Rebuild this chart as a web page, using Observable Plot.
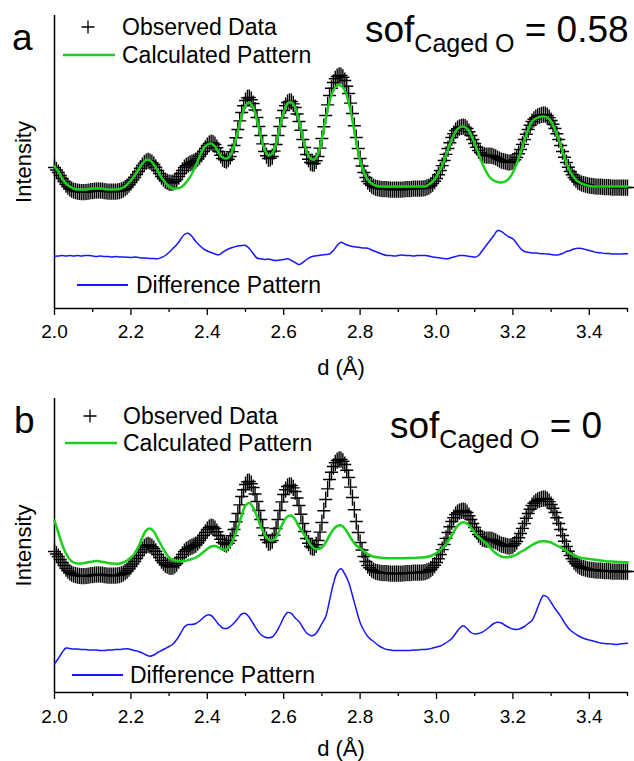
<!DOCTYPE html>
<html><head><meta charset="utf-8">
<script src="https://cdn.jsdelivr.net/npm/d3@7"></script>
<script src="https://cdn.jsdelivr.net/npm/@observablehq/plot@0.6"></script>
<style>
body{margin:0;background:#fff;}
#chart svg{display:block;}
</style></head><body><div id="chart"></div>
<script>
// d-spacing grid of the observed data (Å)
const dObs = [
2.000,2.005,2.010,2.015,2.020,2.025,2.030,2.035,2.040,2.045,2.050,2.055,2.060,2.065,2.070,2.075,2.080,2.085,2.090,2.095,
2.100,2.105,2.110,2.115,2.120,2.125,2.130,2.135,2.140,2.145,2.150,2.155,2.160,2.165,2.170,2.175,2.180,2.185,2.190,2.195,
2.200,2.205,2.210,2.215,2.220,2.225,2.230,2.235,2.240,2.245,2.250,2.255,2.260,2.265,2.270,2.275,2.280,2.285,2.290,2.295,
2.300,2.305,2.310,2.315,2.320,2.325,2.330,2.335,2.340,2.345,2.350,2.355,2.360,2.365,2.370,2.375,2.380,2.385,2.390,2.395,
2.400,2.405,2.410,2.415,2.420,2.425,2.430,2.435,2.440,2.445,2.450,2.455,2.460,2.465,2.470,2.475,2.480,2.485,2.490,2.495,
2.500,2.505,2.510,2.515,2.520,2.525,2.530,2.535,2.540,2.545,2.550,2.555,2.560,2.565,2.570,2.575,2.580,2.585,2.590,2.595,
2.600,2.605,2.610,2.615,2.620,2.625,2.630,2.635,2.640,2.645,2.650,2.655,2.660,2.665,2.670,2.675,2.680,2.685,2.690,2.695,
2.700,2.705,2.710,2.715,2.720,2.725,2.730,2.735,2.740,2.745,2.750,2.755,2.760,2.765,2.770,2.775,2.780,2.785,2.790,2.795,
2.800,2.805,2.810,2.815,2.820,2.825,2.830,2.835,2.840,2.845,2.850,2.855,2.860,2.865,2.870,2.875,2.880,2.885,2.890,2.895,
2.900,2.905,2.910,2.915,2.920,2.925,2.930,2.935,2.940,2.945,2.950,2.955,2.960,2.965,2.970,2.975,2.980,2.985,2.990,2.995,
3.000,3.005,3.010,3.015,3.020,3.025,3.030,3.035,3.040,3.045,3.050,3.055,3.060,3.065,3.070,3.075,3.080,3.085,3.090,3.095,
3.100,3.105,3.110,3.115,3.120,3.125,3.130,3.135,3.140,3.145,3.150,3.155,3.160,3.165,3.170,3.175,3.180,3.185,3.190,3.195,
3.200,3.205,3.210,3.215,3.220,3.225,3.230,3.235,3.240,3.245,3.250,3.255,3.260,3.265,3.270,3.275,3.280,3.285,3.290,3.295,
3.300,3.305,3.310,3.315,3.320,3.325,3.330,3.335,3.340,3.345,3.350,3.355,3.360,3.365,3.370,3.375,3.380,3.385,3.390,3.395,
3.400,3.405,3.410,3.415,3.420,3.425,3.430,3.435,3.440,3.445,3.450,3.455,3.460,3.465,3.470,3.475,3.480,3.485,3.490,3.495,
3.500];

// Observed data (same measurement in both panels)
const observed = [
141,138.5,136,133,130,127,124,121.8,120,118.8,118,117.4,117,116.7,116.5,116.4,116.5,116.7,117,117.3,
117.5,117.8,118,118.1,118,117.8,117.5,117.2,117,116.9,117,117,117,117.2,117.5,118.1,119,120.3,122,123.9,
126,128.4,131,134,137,140.2,143,145.4,147,147.6,147,145.8,144,141.2,138,134.9,132,129.8,128,126.8,
126,125.7,126,127.2,129,131.9,135,138.1,141,142.7,144,145.1,146,146.9,148,149.8,152,154.4,157,160.1,
163,165,166,165.5,164,160.8,157,153.2,150,148.6,148,149.3,152,156.9,163,170.8,179,187.6,196,202.8,
208,210.6,211,208.8,205,198.5,191,182,173,164.6,157,152.8,150,150.2,152,157.4,164,173,182,190.6,
198,202.8,206,207.1,207,204.6,201,194.5,187,178.2,169,161,154,149.3,146,144.8,145,147.7,152,160.4,
170,181.8,193,203.6,213,220.2,226,229.7,232,233.1,233,231.2,228,222.3,215,205.4,195,182.8,171,160,
150,142.5,136,131,127,124.7,123,121.9,121,120.4,120,119.7,119.5,119.5,119.5,119.2,119,119,119,119,
119,119,119,119.2,119.5,119.5,119.5,119.7,120,120,120,120,120,120.2,120.5,121.1,122,123.3,125,127.3,
130,133.8,138,142.9,148,154.1,160,165.7,171,174.8,178,179.8,181,181.7,182,181.4,180,176.8,173,169,
165,161.3,158,155.7,154,153.4,153,153,153,152.6,152,151.1,150,149,148,147.4,147,146.5,146,146.3,
147,148.7,151,154.8,159,164.1,169,174.2,179,183.3,187,189.2,191,192.1,193,193.6,194,193.8,193,190.9,
188,184.2,180,174.7,169,163,157,151.3,146,141.3,137,133.8,131,128.8,127,125.9,125,124.4,124,123.5,
123,122.7,122.5,122.2,122,122,122,121.7,121.5,121.5,121.5,121.2,121,121,121,121,121,121,121,121,
121];

// d-spacing grid of the fitted / difference curves (Å)
const d = [
2.00,2.01,2.02,2.03,2.04,2.05,2.06,2.07,2.08,2.09,
2.10,2.11,2.12,2.13,2.14,2.15,2.16,2.17,2.18,2.19,
2.20,2.21,2.22,2.23,2.24,2.25,2.26,2.27,2.28,2.29,
2.30,2.31,2.32,2.33,2.34,2.35,2.36,2.37,2.38,2.39,
2.40,2.41,2.42,2.43,2.44,2.45,2.46,2.47,2.48,2.49,
2.50,2.51,2.52,2.53,2.54,2.55,2.56,2.57,2.58,2.59,
2.60,2.61,2.62,2.63,2.64,2.65,2.66,2.67,2.68,2.69,
2.70,2.71,2.72,2.73,2.74,2.75,2.76,2.77,2.78,2.79,
2.80,2.81,2.82,2.83,2.84,2.85,2.86,2.87,2.88,2.89,
2.90,2.91,2.92,2.93,2.94,2.95,2.96,2.97,2.98,2.99,
3.00,3.01,3.02,3.03,3.04,3.05,3.06,3.07,3.08,3.09,
3.10,3.11,3.12,3.13,3.14,3.15,3.16,3.17,3.18,3.19,
3.20,3.21,3.22,3.23,3.24,3.25,3.26,3.27,3.28,3.29,
3.30,3.31,3.32,3.33,3.34,3.35,3.36,3.37,3.38,3.39,
3.40,3.41,3.42,3.43,3.44,3.45,3.46,3.47,3.48,3.49,
3.50];

// Panel a: sof(Caged O) = 0.58
const calcA = [
142,137,130,125,122,120,119,119,119,119.5,
120,120,120,119.5,119,119,119,119.5,121,124,
128,133,139,145,148.5,148,144,138,131,126,
122,120,120,121,124,129,135,143,152,160,
164,165,162,156,151,150,153,163,177,192,
203,206,201,188,172,159,153,155,165,181,
196,205,206,201,188,171,157,150,149,155,
170,190,207,218,223,223,218,206,188,166,
148,136,129,125,123,122,122,122,122,122,
122,122,122,122,122,122,122,122,124,127,
132,139,148,159,169,177,181,182,180,174,
165,155,145,137,131,128,126.5,126,127,130,
136,145,156,168,179,187,190,191.5,192,191,
187,179,169,157,146,137,131,127,125,123.5,
122.5,122,122,122,122,122,122,122,122,122,
122];
const diffA = [
52.3,52.5,53,52.5,53,52.5,53,52.5,53,53,
52.5,52,52.5,52,52,51.5,52,51.5,51.5,51.3,
51,51.5,51,50.5,50.5,50,50,49.7,51,53,
56.3,60,64,69,74,75.3,72,67,63,59.7,
57.5,56,54.5,53.7,56,58.5,60.3,61.5,62.5,63,
63,60,55,50.5,49.7,49,49.5,48.5,48,48.5,
49,49.7,48,46,44,46,49,51.3,52.5,53,
53.5,54,54.5,58,63,66.3,64.5,63,62,61.5,
61,60.5,60.3,58.5,57,55.5,54,53,53,52.5,
53,53.5,53,53,52.5,53,53,53,52.5,51.5,
51,50.5,50,49.7,51,52,53,53,52.5,52,
51.3,53,58,63,68,73,78,77,74,71.5,
69.7,65,60,57,56.3,55.5,55.5,55,54.7,54.5,
54,53.5,53.7,55,57,58,59.5,60.3,60,59,
58,57,56,55.7,55,55,54.5,54.5,54.5,54.7,
54.7];

// Panel b: sof(Caged O) = 0
const calcB = [
172,160,148,139,133,130,129,129,129.5,130.5,
131,131.5,131,130.5,129.5,129,128.7,129,130,132,
135,139,146,155,162,164,161,154,147,140,
135,132.5,131.5,131.3,131.5,132.5,133.5,135,137.5,140.5,
143.5,146,146.5,145,143,143,147,155,165,177,
187,189.5,185,176,166,158,153,152,155,163,
171,176,177,173,166,160,154,148,144,143.5,
145,150,157,163,166.5,167,164,158,152,147,
144,141,138.5,136.5,135.5,135,134.5,134.3,134.3,134.3,
134.3,134.3,134.3,134.5,134.5,134.7,135,135.3,136,137.5,
139.5,142.5,146,151,157,164,168.5,170.3,169,165,
160,155.5,152.5,149,145,141,138,136,135.3,135.5,
136.5,138,140.5,142.5,145,147.5,149.5,151,151.3,151,
150,148,146,144,141.5,139,137,135.5,134.5,134,
133.5,133,132.5,132,131.5,131,131,130.7,130.5,130.3,
130.3];
const diffB = [
28.7,34,40,44.5,44,43.5,43.5,43,43,42.5,
42.5,42.5,42,42,42.5,42.5,43,43,43.5,43.7,
43,42,41,39.5,37.5,36.3,37.5,40,42,44,
46,48.5,53,59,65.5,68,68,69,71.5,75,
77.5,77,73,68,64.5,64,66,69.5,74,78.5,
79,75,69,63,58,55.5,54.7,55.5,60,67,
75,80,79,74.5,71,65,59.5,57,57.5,62,
69,76,92,108.7,120,123.7,118.5,110.3,97,83,
70,62,56,52.5,49.5,46.5,44.5,43,42.5,42,
42,42,42,42,42.5,42.5,43,43,43.5,44.5,
45.5,46.5,48.5,51,54,59,64,66.7,64,60,
58.5,59,60.3,63,66,69,70.3,69.5,67,65,
63.5,63,64,66,69,72,80,90,97,95.5,
90,84,79,73,67,62.5,59.5,57,55,53.5,
52.5,51.5,50.5,49.5,49,48.7,48.5,48,48.5,49,
49.3];

const majorTicks = [2.0, 2.2, 2.4, 2.6, 2.8, 3.0, 3.2, 3.4];
const minorTicks = [2.1, 2.3, 2.5, 2.7, 2.9, 3.1, 3.3, 3.5];
const legendLabels = ["Observed Data", "Calculated Pattern", "Difference Pattern"];
const xLabel = "d (Å)";
const yLabel = "Intensity";

const FONT = '"Liberation Sans", Arial, Helvetica, sans-serif';
const GREEN = "#1ccf1c";
const BLUE = "#1717ff";

const plusSymbol = {
  draw(ctx, size) {
    const r = Math.sqrt(size / Math.PI);
    ctx.moveTo(-r, 0); ctx.lineTo(r, 0);
    ctx.moveTo(0, -r * 1.25); ctx.lineTo(0, r * 1.25);
  }
};

function panel(cfg) {
  const obsData = dObs.map((x, i) => ({x, y: observed[i]}));
  const calcData = d.map((x, i) => ({x, y: cfg.calc[i]}));
  const diffData = d.map((x, i) => ({x, y: cfg.diff[i]}));
  const svg = Plot.plot({
    width: 634, height: cfg.height,
    marginLeft: 54, marginRight: 7, marginTop: cfg.mt, marginBottom: cfg.mb,
    style: {fontFamily: FONT, fontSize: "19px", color: "black", background: "white", overflow: "visible"},
    x: {domain: [2.0, 3.5], label: null},
    y: {domain: [0, cfg.ymax], axis: null, label: null},
    marks: [
      Plot.axisX({ticks: minorTicks, tickSize: 4, tickFormat: () => "", strokeWidth: 1.3, label: null}),
      Plot.axisX({ticks: majorTicks, tickSize: 7, tickPadding: cfg.tp, tickFormat: v => v.toFixed(1), strokeWidth: 1.3, label: null}),
      Plot.ruleY([0], {strokeWidth: 1.5}),
      Plot.ruleX([2.0], {strokeWidth: 1.5}),
      Plot.dot(obsData, {x: "x", y: "y", symbol: plusSymbol, r: 6.5, stroke: "black", strokeWidth: 1.4, fill: "none"}),
      Plot.line(calcData, {x: "x", y: "y", stroke: GREEN, strokeWidth: 2.5, curve: "catmull-rom"}),
      Plot.line(diffData, {x: "x", y: "y", stroke: BLUE, strokeWidth: 1.5, curve: "catmull-rom"}),
      Plot.text([xLabel], {frameAnchor: "bottom", lineAnchor: "middle", textAnchor: "middle", dy: cfg.labelDy, fontSize: 22}),
      Plot.text([yLabel], {frameAnchor: "left", lineAnchor: "middle", textAnchor: "middle", rotate: -90, dx: -31, fontSize: 22})
    ]
  });
  const s = d3.select(svg);
  const t = (x, y, size, str) => s.append("text").attr("x", x).attr("y", y)
    .attr("text-anchor", "start")
    .attr("font-family", FONT).attr("font-size", size).attr("fill", "black").text(str);
  // panel letter
  t(cfg.letterX, cfg.letterY, 37, cfg.letter);
  // legend
  const L = cfg.leg;
  s.append("path").attr("d", `M${L.px - 6.5},${L.py}H${L.px + 6.5}M${L.px},${L.py - 6.5}V${L.py + 6.5}`)
    .attr("stroke", "black").attr("stroke-width", 1.3).attr("fill", "none");
  t(L.tx, L.py + 8, 23, legendLabels[0]);
  s.append("line").attr("x1", L.gx1).attr("x2", L.gx2).attr("y1", L.gy).attr("y2", L.gy)
    .attr("stroke", GREEN).attr("stroke-width", 2.5);
  t(L.tx, L.gy + 8, 23, legendLabels[1]);
  s.append("line").attr("x1", L.bx1).attr("x2", L.bx2).attr("y1", L.by).attr("y2", L.by)
    .attr("stroke", BLUE).attr("stroke-width", 2);
  t(L.btx, L.by + 8, 23, legendLabels[2]);
  // sof annotation
  const a = s.append("text").attr("x", cfg.sofX).attr("y", cfg.sofY).attr("text-anchor", "start")
    .attr("font-family", FONT).attr("font-size", 37).attr("fill", "black");
  a.append("tspan").text("sof");
  a.append("tspan").attr("font-size", 25).attr("dy", 10).text("Caged O");
  a.append("tspan").attr("font-size", 37).attr("dy", -10).text("\u00A0= " + cfg.sof);
  return svg;
}

const chart = document.getElementById("chart");
chart.appendChild(panel({
  calc: calcA, diff: diffA, height: 380, mt: 15, mb: 72, ymax: 293, tp: 9, labelDy: 59,
  letter: "a", letterX: 12, letterY: 50, sof: "0.58", sofX: 365, sofY: 42,
  leg: {px: 88, py: 27, tx: 122, gx1: 63, gx2: 115, gy: 55, bx1: 77, bx2: 128, by: 285, btx: 136}
}));
chart.appendChild(panel({
  calc: calcB, diff: diffB, height: 381, mt: 18, mb: 69, ymax: 294, tp: 10, labelDy: 56,
  letter: "b", letterX: 14, letterY: 53, sof: "0", sofX: 390, sofY: 58,
  leg: {px: 90, py: 36, tx: 123, gx1: 65, gx2: 117, gy: 63, bx1: 72, bx2: 123, by: 295, btx: 130}
}));
</script></body></html>
